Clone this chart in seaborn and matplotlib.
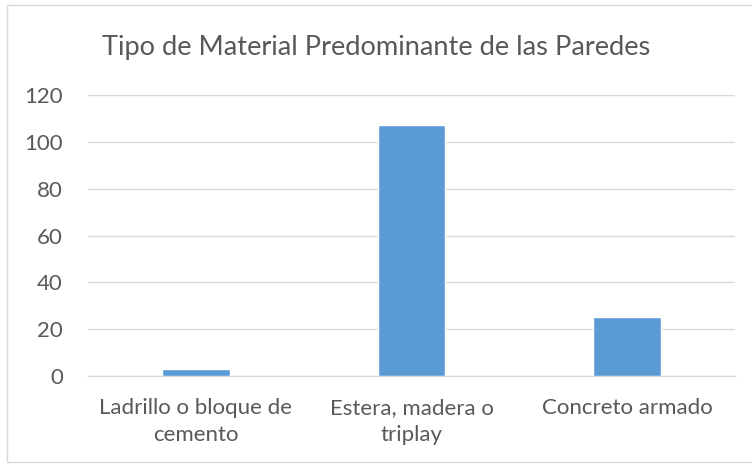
import matplotlib
matplotlib.use("Agg")
import matplotlib.pyplot as plt
import seaborn as sns
import pandas as pd
from matplotlib.patches import Rectangle

categories = ["Ladrillo o bloque de\ncemento", "Estera, madera o\ntriplay", "Concreto armado"]
values = [3, 107, 25]
yticks = [0, 20, 40, 60, 80, 100, 120]
title = "Tipo de Material Predominante de las Paredes"

sns.set_theme(style="white")
plt.rcParams['font.family'] = ['Lato', 'DejaVu Sans']

df = pd.DataFrame({"cat": categories, "val": values})
fig = plt.figure(figsize=(7.52, 4.65), dpi=100)
ax = fig.add_axes([88/752, 1-376/465, (735-88)/752, (376-95)/465])

sns.barplot(data=df, x="cat", y="val", color="#5B9BD5", width=0.315, ax=ax, zorder=3, saturation=1)
ax.set_ylim(0, 120)
ax.set_xlim(-0.5, 2.5)
ax.set_yticks(yticks)
ax.set_yticklabels([str(t) for t in yticks])
ax.grid(axis="y", color="#D9D9D9", linewidth=1, zorder=0)
for s in ["top", "right", "left"]:
    ax.spines[s].set_visible(False)
ax.spines["bottom"].set_color("#D9D9D9")
ax.spines["bottom"].set_linewidth(1)
ax.set_xlabel("")
ax.set_ylabel("")
ax.tick_params(axis="both", length=0, labelsize=16, colors="#595959")
ax.tick_params(axis="y", pad=18)
ax.tick_params(axis="x", pad=16)
for lbl in ax.get_xticklabels():
    lbl.set_linespacing(1.45)

fig.text(0.5, 1-47/465, title, ha="center", va="center", fontsize=19.6, color="#595959")
fig.patches.append(Rectangle((7/752, 1-462/465), 1.0, 457/465, transform=fig.transFigure,
                             fill=False, edgecolor="#D9D9D9", linewidth=1))
fig.savefig("out.png", dpi=100)
